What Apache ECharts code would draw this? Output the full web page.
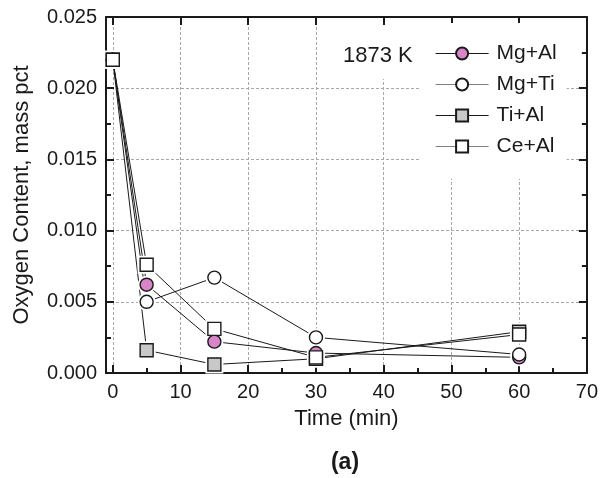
<!DOCTYPE html>
<html>
<head>
<meta charset="utf-8">
<script src="https://cdn.jsdelivr.net/npm/echarts@6/dist/echarts.min.js"></script>
<style>
  html, body { margin: 0; padding: 0; background: #fff; }
  #chart { width: 601px; height: 478px; }
</style>
</head>
<body>
<div id="chart"></div>
<script>
// Sampling times (min)
const timeMin = [0, 5, 15, 30, 60];

// Oxygen content (mass pct) for each deoxidizer combination
const mgAl = [0.0220, 0.0062, 0.0022, 0.0014, 0.0011];
const mgTi = [0.0220, 0.0050, 0.0067, 0.0025, 0.0013];
const tiAl = [0.0220, 0.0016, 0.0006, 0.0010, 0.0029];
const ceAl = [0.0220, 0.0076, 0.0031, 0.0011, 0.0027];

// Axis tick positions
const xMajorTicks = [0, 10, 20, 30, 40, 50, 60, 70];
const xMinorTicks = [5, 15, 25, 35, 45, 55, 65];

const FONT = 'Liberation Sans, Arial, sans-serif';
const INK = '#1a1a1a';
const MARK = 13;

function pairs(ys) {
  return timeMin.map((t, i) => [t, ys[i]]);
}

const groups = [
  { name: 'Mg+Al', ys: mgAl, symbol: 'circle', fill: '#d884c9' },
  { name: 'Mg+Ti', ys: mgTi, symbol: 'circle', fill: '#ffffff' },
  { name: 'Ti+Al', ys: tiAl, symbol: 'rect', fill: '#c8c8c8' },
  { name: 'Ce+Al', ys: ceAl, symbol: 'rect', fill: '#ffffff' }
];

const markerStyle = g => ({ color: g.fill, borderColor: INK, borderWidth: 1.4, opacity: 1 });

// Connecting lines (these named series also provide the legend entries)
const lineSeries = groups.map(g => ({
  name: g.name,
  type: 'line',
  z: 2,
  data: pairs(g.ys),
  symbol: g.symbol,
  symbolSize: MARK,
  showAllSymbol: true,
  lineStyle: { color: INK, width: 1 },
  itemStyle: markerStyle(g),
  emphasis: { disabled: true },
  silent: true
}));

// White halos leave a small gap between each line end and its marker
const haloSeries = groups.map(g => ({
  type: 'scatter',
  z: 3,
  data: pairs(g.ys),
  symbol: g.symbol,
  symbolSize: MARK + 5,
  itemStyle: { color: '#ffffff', opacity: 1 },
  emphasis: { disabled: true },
  silent: true
}));

// Markers drawn on top of everything else
const markerSeries = groups.map(g => ({
  type: 'scatter',
  z: 4,
  data: pairs(g.ys),
  symbol: g.symbol,
  symbolSize: MARK,
  itemStyle: markerStyle(g),
  emphasis: { disabled: true },
  silent: true
}));

const chart = echarts.init(document.getElementById('chart'), null, { renderer: 'canvas' });

const gridLine = { show: true, lineStyle: { color: '#a8a8a8', width: 1, type: [3, 2] } };

chart.setOption({
  animation: false,
  backgroundColor: '#fff',
  textStyle: { fontFamily: FONT },
  title: {
    text: '1873 K',
    left: 339,
    top: 27,
    padding: [18, 4, 12, 4],
    backgroundColor: '#fff',
    textStyle: { fontFamily: FONT, fontSize: 22, fontWeight: 'normal', color: INK }
  },
  legend: {
    orient: 'vertical',
    left: 420,
    top: 23,
    padding: [20, 10, 22, 15],
    backgroundColor: '#fff',
    itemWidth: 53,
    itemHeight: 15,
    itemGap: 10,
    textStyle: { fontFamily: FONT, fontSize: 21, color: INK, padding: [0, 0, 0, 3] },
    selectedMode: false,
    data: [
      { name: 'Mg+Al', lineStyle: { color: INK, width: 1.2 } },
      { name: 'Mg+Ti', lineStyle: { color: '#808080', width: 1.2 } },
      { name: 'Ti+Al', lineStyle: { color: INK, width: 1.2 } },
      { name: 'Ce+Al', lineStyle: { color: '#808080', width: 1.2 } }
    ]
  },
  grid: { left: 106, right: 11, top: 17, bottom: 105, containLabel: false },
  xAxis: [
    {
      type: 'value',
      min: -1,
      max: 70,
      position: 'bottom',
      name: 'Time (min)',
      nameLocation: 'middle',
      nameGap: 35,
      nameTextStyle: { fontFamily: FONT, fontSize: 22, color: INK },
      axisLine: { show: true, onZero: false, lineStyle: { color: INK, width: 2 } },
      axisTick: { show: true, inside: true, length: 8, customValues: xMajorTicks, lineStyle: { color: INK, width: 2 } },
      axisLabel: { show: true, margin: 9, customValues: xMajorTicks, fontFamily: FONT, fontSize: 20, color: INK },
      splitLine: gridLine
    },
    {
      type: 'value',
      min: -1,
      max: 70,
      position: 'bottom',
      axisLine: { show: false },
      axisTick: { show: true, inside: true, length: 5, customValues: xMinorTicks, lineStyle: { color: INK, width: 2 } },
      axisLabel: { show: false },
      splitLine: { show: false }
    },
    {
      type: 'value',
      min: -1,
      max: 70,
      position: 'top',
      axisLine: { show: true, onZero: false, lineStyle: { color: INK, width: 2 } },
      axisTick: { show: true, inside: true, length: 8, customValues: xMajorTicks, lineStyle: { color: INK, width: 2 } },
      axisLabel: { show: false },
      splitLine: { show: false }
    }
  ],
  yAxis: [
    {
      type: 'value',
      min: 0,
      max: 0.025,
      interval: 0.005,
      position: 'left',
      name: 'Oxygen Content, mass pct',
      nameLocation: 'middle',
      nameGap: 73,
      nameTextStyle: { fontFamily: FONT, fontSize: 22, color: INK },
      axisLine: { show: true, onZero: false, lineStyle: { color: INK, width: 2 } },
      axisTick: { show: true, inside: true, length: 8, lineStyle: { color: INK, width: 2 } },
      minorTick: { show: true, splitNumber: 2, length: 5, lineStyle: { color: INK, width: 2 } },
      axisLabel: {
        show: true, margin: 9, fontFamily: FONT, fontSize: 20, color: INK,
        formatter: v => v.toFixed(3)
      },
      splitLine: gridLine
    },
    {
      type: 'value',
      min: 0,
      max: 0.025,
      interval: 0.005,
      position: 'right',
      axisLine: { show: true, onZero: false, lineStyle: { color: INK, width: 2 } },
      axisTick: { show: true, inside: true, length: 8, lineStyle: { color: INK, width: 2 } },
      minorTick: { show: true, splitNumber: 2, length: 5, lineStyle: { color: INK, width: 2 } },
      axisLabel: { show: false },
      splitLine: { show: false }
    }
  ],
  graphic: [
    {
      type: 'text',
      x: 345,
      y: 463,
      style: {
        text: '(a)', fill: INK, font: 'bold 23px ' + FONT,
        textAlign: 'center', textVerticalAlign: 'middle'
      }
    }
  ],
  series: [].concat(lineSeries, haloSeries, markerSeries)
});
</script>
</body>
</html>
